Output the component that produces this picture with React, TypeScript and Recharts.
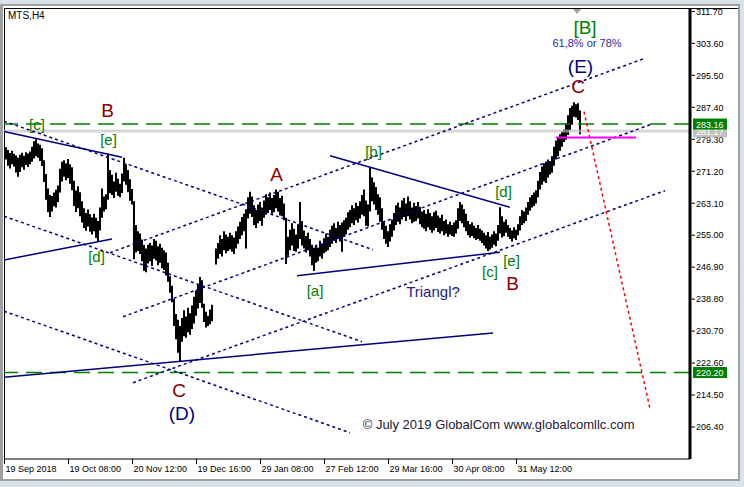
import {
  Bar,
  ComposedChart,
  ReferenceDot,
  ReferenceLine,
  XAxis,
  YAxis,
} from "recharts";

// MTS, H4 bars: one entry per bar (high / low)
const highs = [
  277.0, 277.3, 276.6, 275.8, 276.4, 275.6, 275.2, 274.6, 275.4, 275.9,
  275.1, 276.0, 275.7, 276.2, 277.4, 278.8, 279.3, 278.2, 277.9, 277.0,
  274.0, 270.5, 266.8, 265.2, 264.9, 265.8, 266.5, 267.6, 271.8, 273.6,
  274.0, 273.2, 274.3, 273.0, 272.2, 268.8, 266.3, 267.4, 265.9, 263.6,
  261.8, 260.6, 261.5, 260.3, 259.5, 260.4, 259.4, 258.6, 262.0, 266.8,
  264.8, 265.4, 275.6, 271.5, 270.3, 268.6, 270.8, 269.3, 268.0, 270.6,
  274.6, 273.0, 271.5, 269.2, 266.7, 263.6, 257.6, 256.0, 255.4, 253.9,
  252.5, 251.6, 252.6, 253.0, 252.4, 254.0, 253.6, 252.2, 252.8, 251.8,
  251.2, 250.6, 248.0, 244.6, 242.2, 238.8, 235.0, 233.6, 232.0, 234.0,
  236.0, 234.4, 236.6, 235.2, 237.2, 239.4, 241.0, 242.6, 244.4, 243.6,
  237.6, 235.6, 234.6, 236.2, 237.4, null, 251.6, 253.0, 255.0, 254.0,
  256.0, 255.2, 254.6, 255.6, 255.0, 254.4, 256.0, 257.2, 258.4, 259.6,
  260.4, 261.6, 264.6, 266.0, 264.8, 262.6, 261.4, 262.8, 263.4, 262.0,
  263.8, 265.4, 264.6, 265.8, 264.4, 265.2, 266.6, 266.0, 264.4, 265.0,
  263.0, 259.4, 254.6, 256.4, 258.0, 256.6, 255.2, 257.8, 263.4, 258.6,
  256.2, 254.8, 255.6, 254.0, 252.6, 251.8, 252.6, 251.8, 253.6, 252.8,
  254.2, 255.4, 254.6, 256.4, 257.4, 258.0, 256.8, 258.4, 257.6, 258.2,
  258.8, 259.4, 260.8, 261.4, 262.6, 261.8, 263.2, 262.4, 263.6, 265.2,
  266.6, 263.8, 262.8, 272.2, 269.6, 268.4, 267.2, 265.4, 264.6, 261.8,
  258.6, 257.4, 256.0, 257.8, 259.0, 260.6, 262.6, 263.2, 262.0, 263.8,
  264.4, 263.0, 264.8, 263.6, 262.0, 263.2, 262.4, 263.4, 262.2, 261.0,
  261.4, 260.4, 261.6, 260.6, 259.8, 260.8, 261.2, 260.0, 259.4, 260.2,
  258.6, 259.0, 257.8, 258.4, 257.6, 258.2, 258.8, 261.8, 263.4, 262.8,
  261.6, 260.4, 258.6, 257.8, 258.2, 257.4, 256.8, 257.6, 256.6, 256.2,
  255.6, 255.0, 255.8, 254.6, 255.2, 256.0, 255.4, 257.6, 262.1, 259.8,
  258.4, 259.0, 257.6, 256.8, 256.2, 257.0, 256.4, 257.8, 259.8, 261.4,
  261.0, 262.0, 263.4, 264.6, 265.2, 265.8, 266.4, 268.8, 271.0, 272.4,
  273.2, 273.6, 274.2, 273.8, 275.0, 277.4, 279.0, 279.8, 280.6, 281.2,
  281.8, 283.4, 285.4, 287.2, 287.8, 288.7, 288.2, 288.4, 286.6,
];

const lows = [
  273.8, 274.2, 272.6, 271.9, 273.0, 272.4, 270.9, 269.8, 271.0, 272.2,
  271.6, 272.8, 272.3, 273.0, 273.6, 274.4, 275.0, 274.6, 273.8, 272.5,
  268.5, 264.0, 260.8, 259.6, 261.0, 262.3, 262.0, 263.4, 265.8, 268.6,
  269.8, 268.9, 269.5, 268.0, 266.4, 262.4, 260.9, 261.8, 259.8, 258.2,
  256.8, 256.1, 257.2, 255.9, 255.2, 256.0, 254.3, 253.5, 256.2, 259.4,
  261.0, 261.6, 264.0, 265.6, 265.2, 264.4, 266.0, 265.0, 264.6, 265.7,
  268.6, 267.8, 265.9, 263.7, 262.8, 248.9, 250.6, 251.0, 250.2, 248.4,
  246.0, 245.6, 247.8, 248.4, 247.2, 249.0, 248.6, 247.4, 248.0, 246.6,
  246.2, 244.8, 243.2, 240.4, 238.0, 232.0, 228.6, 225.2, 223.1, 228.0,
  229.4, 229.0, 230.4, 229.8, 231.2, 232.6, 234.6, 236.4, 237.8, 236.6,
  233.0, 231.6, 232.0, 232.4, 233.2, null, 247.6, 249.0, 250.2, 249.6,
  251.2, 250.4, 251.0, 251.4, 250.8, 250.2, 251.6, 252.8, 254.0, 255.0,
  256.0, 251.6, 259.2, 260.4, 259.6, 257.6, 256.8, 258.0, 258.6, 257.4,
  259.4, 260.2, 260.6, 261.4, 260.4, 260.8, 261.8, 261.0, 260.0, 259.8,
  258.8, 247.7, 249.8, 251.2, 252.4, 251.0, 250.8, 251.6, 254.0, 252.4,
  251.6, 250.6, 251.2, 249.6, 247.4, 245.9, 248.0, 248.4, 249.6, 249.0,
  250.4, 250.8, 251.2, 252.0, 252.8, 253.6, 253.0, 254.2, 253.4, 250.8,
  254.6, 255.2, 256.4, 257.0, 258.0, 257.6, 258.8, 258.2, 259.2, 260.2,
  259.8, 257.4, 257.2, 261.0, 263.6, 262.8, 261.4, 260.2, 258.4, 256.4,
  254.0, 252.8, 252.0, 253.4, 254.6, 256.2, 257.6, 258.4, 257.8, 259.0,
  259.6, 258.6, 259.8, 259.0, 258.0, 258.4, 258.6, 259.2, 257.8, 257.0,
  256.6, 256.0, 257.0, 256.4, 255.6, 256.2, 256.8, 255.8, 255.4, 256.0,
  255.0, 255.4, 254.6, 255.2, 254.8, 254.6, 255.4, 256.6, 258.6, 258.0,
  257.0, 256.0, 255.0, 254.4, 254.8, 254.2, 253.8, 254.0, 253.6, 253.0,
  252.4, 251.6, 251.0, 251.4, 251.8, 252.6, 252.2, 253.6, 255.4, 254.4,
  254.8, 255.6, 254.6, 254.0, 253.4, 254.2, 253.8, 255.0, 256.2, 257.6,
  258.0, 258.6, 260.2, 261.2, 262.0, 262.4, 263.0, 264.6, 266.6, 267.8,
  268.6, 268.2, 269.6, 270.4, 270.8, 272.6, 274.2, 275.0, 276.4, 277.4,
  278.6, 279.2, 280.4, 281.6, 283.0, 285.0, 284.8, 284.2, 280.6,
];

// time axis: bar index of each date label
const dateTicks = [0, 32, 64, 96, 128, 160, 192, 224, 256];
const dateLabels = [
  "19 Sep 2018",
  "19 Oct 08:00",
  "20 Nov 12:00",
  "19 Dec 16:00",
  "29 Jan 08:00",
  "27 Feb 12:00",
  "29 Mar 16:00",
  "30 Apr 08:00",
  "31 May 12:00",
];

const priceTicks = [
  311.7, 303.6, 295.5, 287.4, 279.3, 271.2, 263.1, 255.0, 246.9, 238.8,
  230.7, 222.6, 214.5, 206.4,
];

const bidPrice = 281.17;
const askPrice = 281.6;
const resistance = 283.16;
const support = 220.2;
const targetPrice = 279.77;

// price tags on the scale (drawn last so they sit on top)
const priceTags = [
  { price: bidPrice, kind: "bid" },
  { price: resistance, kind: "level" },
  { price: support, kind: "level" },
];

// trend lines: [bar index, price]
const trendLines = [
  { from: [0, 281.29], to: [59, 274.73], kind: "solid" },
  { from: [0, 248.71], to: [54, 254.03], kind: "solid" },
  { from: [0, 219.02], to: [244.5, 230.21], kind: "solid" },
  { from: [163, 275.14], to: [253, 262.04], kind: "solid" },
  { from: [146.5, 244.73], to: [248, 250.69], kind: "solid" },
  { from: [0, 283.88], to: [184.5, 251.32], kind: "dot" },
  { from: [59.5, 234.34], to: [324.5, 283.25], kind: "dot" },
  { from: [53, 250.56], to: [319.5, 299.64], kind: "dot" },
  { from: [64.5, 217.62], to: [330.5, 266.27], kind: "dot" },
  { from: [0, 259.81], to: [179, 228.01], kind: "dot" },
  { from: [0, 235.74], to: [173, 204.95], kind: "dot" },
  { from: [290, 286.29], to: [323, 211.03], kind: "forecast" },
  { from: [276, targetPrice], to: [316, targetPrice], kind: "target" },
];

// wave marks and comments: [bar index, price]
const notes = [
  { t: 16.5, p: 282.99, text: "[c]", kind: "minor" },
  { t: 51.75, p: 286.54, text: "B", kind: "inter" },
  { t: 52.25, p: 279.19, text: "[e]", kind: "minor" },
  { t: 46.25, p: 249.67, text: "[d]", kind: "minor" },
  { t: 87.5, p: 215.72, text: "C", kind: "inter" },
  { t: 89, p: 209.89, text: "(D)", kind: "primary" },
  { t: 136.25, p: 270.45, text: "A", kind: "inter" },
  { t: 155.5, p: 241.06, text: "[a]", kind: "minor" },
  { t: 184.75, p: 276.15, text: "[b]", kind: "minor" },
  { t: 214.5, p: 240.68, text: "Triangl?", kind: "comment" },
  { t: 243, p: 245.87, text: "[c]", kind: "minor" },
  { t: 249.75, p: 266.02, text: "[d]", kind: "minor" },
  { t: 253.75, p: 248.66, text: "[e]", kind: "minor" },
  { t: 254.25, p: 242.83, text: "B", kind: "inter" },
  { t: 287, p: 292.75, text: "C", kind: "inter" },
  { t: 288.25, p: 297.69, text: "(E)", kind: "primary" },
  { t: 291.5, p: 303.64, text: "61,8% or 78%", kind: "fib" },
  { t: 290.5, p: 307.7, text: "[B]", kind: "major" },
  {
    t: 179.35,
    p: 207.11,
    text: "© July 2019 GlobalCom www.globalcomllc.com",
    kind: "credit",
  },
];

const FONT = '"Liberation Sans", Arial, sans-serif';
const xDomain = [0, 343];
const yDomain = [198.29, 312.56];

const lineStyles: Record<string, any> = {
  solid: { stroke: "#000080", strokeWidth: 1.5 },
  dot: { stroke: "#000080", strokeWidth: 1.5, strokeDasharray: "3 3" },
  forecast: { stroke: "#ff0000", strokeWidth: 1.5, strokeDasharray: "3 3" },
  target: { stroke: "#ff00ff", strokeWidth: 2 },
};

const noteStyles: Record<string, any> = {
  minor: { fill: "#008000", size: 15 },
  major: { fill: "#008000", size: 19 },
  inter: { fill: "#8b0000", size: 19 },
  primary: { fill: "#000080", size: 19 },
  comment: { fill: "#20208c", size: 15 },
  fib: { fill: "#2a2aa0", size: 11 },
  credit: { fill: "#1a1a3a", size: 13, anchor: "start" },
};

const tagFills: Record<string, string> = {
  bid: "#c0c0c0",
  level: "#008000",
};

const data = highs.map((h, i) => ({
  t: i,
  hl: h == null || lows[i] == null ? null : [lows[i], h],
}));

const TimeTick = (props: any) => {
  const { x, y, payload } = props;
  const label = dateLabels[dateTicks.indexOf(payload.value)];
  return (
    <g>
      <line x1={x + 0.5} x2={x + 0.5} y1={y} y2={y + 5} stroke="#000" />
      <text x={x + 1.5} y={y + 12.5} fontSize={9} fontFamily={FONT} fill="#000">
        {label}
      </text>
    </g>
  );
};

const PriceTick = (props: any) => {
  const { x, y, payload } = props;
  const v = payload.value;
  const tag = priceTags.find((p) => p.price === v);
  if (tag) {
    return (
      <g>
        <rect x={x + 3} y={y - 5.5} width={34} height={11} fill={tagFills[tag.kind]} />
        <text x={x + 6} y={y + 3.5} fontSize={9} fontFamily={FONT} fill="#fff">
          {v.toFixed(2)}
        </text>
      </g>
    );
  }
  return (
    <g>
      <line x1={x + 1.5} x2={x + 5} y1={y} y2={y} stroke="#000" />
      <text x={x + 6} y={y + 3.3} fontSize={9} fontFamily={FONT} fill="#000">
        {v.toFixed(2)}
      </text>
    </g>
  );
};

export default function App() {
  return (
    <div
      style={{
        position: "relative",
        width: 744,
        height: 487,
        background: "#d9e1ea",
        overflow: "hidden",
        fontFamily: FONT,
      }}
    >
      <style>{"body{margin:0}"}</style>
      <div
        style={{
          position: "absolute",
          left: 0,
          top: 4,
          width: 740,
          height: 477,
          background: "#fff",
          borderStyle: "solid",
          borderColor: "#a0a0a0",
          borderWidth: "2px 2px 2px 3px",
          boxSizing: "border-box",
        }}
      />
      <div style={{ position: "absolute", left: 4, top: 8, width: 734, height: 1, background: "#000" }} />
      <div style={{ position: "absolute", left: 4, top: 8, width: 1, height: 452, background: "#000" }} />
      <div
        style={{
          position: "absolute",
          left: 8,
          top: 10,
          fontSize: 10,
          lineHeight: "12px",
          color: "#000",
        }}
      >
        MTS,H4
      </div>
      <div
        style={{
          position: "absolute",
          left: 573,
          top: 9,
          width: 0,
          height: 0,
          borderLeft: "4.5px solid transparent",
          borderRight: "4.5px solid transparent",
          borderTop: "5px solid #a0a0a0",
        }}
      />
      <div style={{ position: "absolute", left: 0, top: 0 }}>
        <ComposedChart
          width={744}
          height={487}
          data={data}
          margin={{ top: 8, right: 0, bottom: 0, left: 4 }}
          barCategoryGap={0}
          barGap={0}
        >
          <XAxis
            type="number"
            dataKey="t"
            domain={xDomain}
            allowDataOverflow
            ticks={dateTicks}
            interval={0}
            height={28}
            tickLine={false}
            tickSize={0}
            tickMargin={0}
            axisLine={{ stroke: "#000" }}
            tick={<TimeTick />}
          />
          <YAxis
            orientation="right"
            type="number"
            domain={yDomain}
            allowDataOverflow
            ticks={[...priceTicks, bidPrice, resistance, support]}
            interval={0}
            width={54}
            tickLine={false}
            tickSize={0}
            tickMargin={0}
            axisLine={{ stroke: "#000", strokeWidth: 3 }}
            tick={<PriceTick />}
          />
          <Bar dataKey="hl" fill="#000" isAnimationActive={false} />
          <ReferenceLine y={askPrice} stroke="#c0c0c0" strokeWidth={1} />
          <ReferenceLine y={bidPrice} stroke="#c0c0c0" strokeWidth={1} />
          <ReferenceLine y={resistance} stroke="#008000" strokeWidth={1.6} strokeDasharray="16 8" />
          <ReferenceLine y={support} stroke="#008000" strokeWidth={1.6} strokeDasharray="16 8" />
          {trendLines.map((l, i) => (
            <ReferenceLine
              key={"l" + i}
              segment={[
                { x: l.from[0], y: l.from[1] },
                { x: l.to[0], y: l.to[1] },
              ]}
              {...lineStyles[l.kind]}
            />
          ))}
          {notes.map((n, i) => {
            const s = noteStyles[n.kind];
            return (
              <ReferenceDot
                key={"n" + i}
                x={n.t}
                y={n.p}
                r={0}
                shape={(p: any) => (
                  <text
                    x={p.cx}
                    y={p.cy}
                    textAnchor={s.anchor || "middle"}
                    dominantBaseline="central"
                    fontSize={s.size}
                    fontFamily={FONT}
                    fill={s.fill}
                  >
                    {n.text}
                  </text>
                )}
              />
            );
          })}
        </ComposedChart>
      </div>
    </div>
  );
}
